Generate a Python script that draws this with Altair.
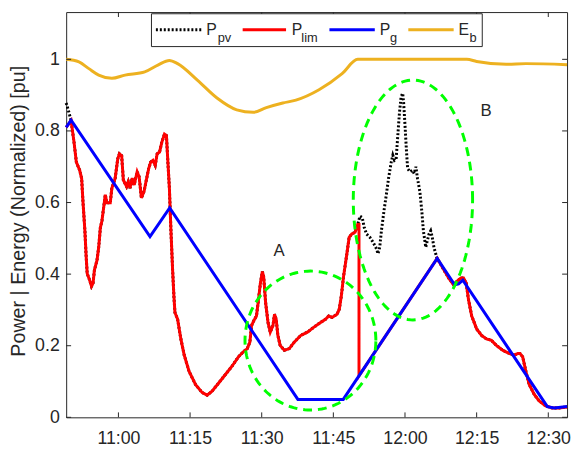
import altair as alt
import numpy as np
import pandas as pd

T11 = 660  # 11:00 expressed in minutes of the day; series times are minutes relative to 11:00

# ---- P_pv / P_lim (shared where P_lim follows P_pv) ----
ppv_head_t = [-10.94, -10.43]
ppv_head_v = [0.878, 0.855]

shared_a_t = [-9.91, -9.29, -8.81, -8.11, -7.70, -7.43, -7.02, -6.75, -6.54, -6.05,
              -5.64, -5.31, -5.02, -4.48, -4.13, -3.78, -3.45, -3.10, -2.75, -2.42,
              -1.71, -1.38, -0.68, -0.14, 0.21, 0.68, 1.03, 1.71, 2.06, 2.42,
              2.89, 3.30, 3.92, 4.34, 4.81, 5.37, 5.84, 6.34, 6.75, 7.23,
              7.70, 8.11, 8.61, 9.08, 9.64, 10.05, 10.32, 10.67, 11.00, 11.35,
              11.62, 11.83, 12.39, 13.07, 13.77, 14.80, 16.16, 17.55, 18.58, 19.61,
              20.99, 22.36, 23.74, 25.12, 26.16, 26.98, 27.52, 27.87, 28.34, 28.90,
              29.25, 29.73, 30.14, 30.41, 30.82, 31.32, 31.79, 32.35, 32.68, 33.03,
              33.38, 33.86, 34.74, 35.78, 36.81, 38.19, 39.57, 40.94, 42.32, 43.35,
              44.03, 44.74, 45.77, 46.24, 46.66, 47.13, 47.83, 48.31, 48.86, 49.55,
              50.10]
shared_a_v = [0.829, 0.768, 0.713, 0.690, 0.667, 0.604, 0.521, 0.448, 0.402, 0.384,
              0.366, 0.375, 0.412, 0.439, 0.475, 0.530, 0.549, 0.585, 0.622, 0.599,
              0.599, 0.640, 0.668, 0.722, 0.736, 0.731, 0.663, 0.645, 0.658, 0.640,
              0.668, 0.649, 0.686, 0.672, 0.613, 0.631, 0.663, 0.695, 0.713, 0.718,
              0.704, 0.736, 0.741, 0.768, 0.791, 0.787, 0.722, 0.640, 0.520, 0.410,
              0.338, 0.293, 0.274, 0.219, 0.174, 0.128, 0.091, 0.069, 0.062, 0.073,
              0.096, 0.119, 0.142, 0.169, 0.183, 0.192, 0.210, 0.256, 0.270, 0.283,
              0.320, 0.375, 0.407, 0.393, 0.320, 0.265, 0.238, 0.256, 0.288, 0.274,
              0.229, 0.201, 0.187, 0.192, 0.210, 0.229, 0.238, 0.252, 0.265, 0.274,
              0.283, 0.279, 0.288, 0.302, 0.338, 0.393, 0.457, 0.503, 0.512, 0.517,
              0.539]

ppv_peak_t = [50.58, 51.05, 51.47, 51.96, 52.64, 53.32, 54.03, 54.36, 54.71, 55.06,
              55.59, 56.09, 56.56, 57.12, 57.45, 57.80, 58.15, 58.49, 58.84, 59.19,
              59.52, 59.72, 60.01, 60.28, 60.55, 61.04, 61.58, 61.93, 62.28, 62.61,
              63.11, 63.52, 63.85, 64.35, 64.68, 65.03, 65.38, 65.71, 66.06, 66.62,
              66.74]
ppv_peak_v = [0.562, 0.558, 0.530, 0.512, 0.503, 0.489, 0.471, 0.457, 0.475, 0.521,
              0.576, 0.622, 0.668, 0.713, 0.732, 0.718, 0.722, 0.787, 0.851, 0.896,
              0.905, 0.878, 0.814, 0.750, 0.695, 0.686, 0.690, 0.681, 0.700, 0.668,
              0.631, 0.576, 0.521, 0.475, 0.494, 0.512, 0.521, 0.503, 0.475, 0.448,
              0.444]

shared_b_t = [68.13, 69.16, 70.19, 70.87, 71.70, 72.25, 72.81, 73.29, 73.97, 75.00,
              76.03, 77.06, 78.10, 79.13, 80.51, 81.90, 82.93, 83.61, 84.08, 84.64,
              85.32, 86.02, 87.06, 88.09, 89.45, 90.83, 92.22, 93.93]
shared_b_v = [0.412, 0.389, 0.370, 0.380, 0.389, 0.389, 0.375, 0.329, 0.283, 0.247,
              0.229, 0.219, 0.215, 0.201, 0.187, 0.178, 0.174, 0.178, 0.178, 0.169,
              0.128, 0.091, 0.064, 0.046, 0.032, 0.026, 0.026, 0.029]

plim_head_t = [-10.94]
plim_head_v = [0.81]
plim_cut_t = [50.37, 50.37, 66.74]
plim_cut_v = [0.539, 0.116, 0.444]

# ---- P_g ----
pg_t = [-10.94, -9.91, 6.61, 10.73, 37.57, 47.07, 66.74, 70.40, 71.22, 72.11, 89.80, 91.25, 93.93]
pg_v = [0.81, 0.83, 0.505, 0.585, 0.05, 0.05, 0.444, 0.37, 0.373, 0.383, 0.03, 0.026, 0.03]

# ---- E_b ----
eb_t = [-10.94, -8.26, -6.19, -4.13, -1.38, 1.38, 5.51, 8.26, 10.67, 12.39,
        16.52, 20.64, 24.77, 28.22, 30.97, 34.41, 37.16, 42.0, 46.83, 50.10,
        72.94, 75.0, 81.19, 85.32, 93.93]
eb_v = [1.0, 0.993, 0.974, 0.956, 0.947, 0.956, 0.965, 0.984, 0.997, 0.988,
        0.942, 0.892, 0.859, 0.852, 0.865, 0.878, 0.886, 0.915, 0.960, 1.0,
        1.0, 0.994, 0.986, 0.988, 0.985]

# ---- annotations ----
ellipse_names = ["A", "B"]
ellipse_cx = [40.2, 61.66]     # minutes after 11:00
ellipse_rx = [13.7, 12.49]     # minutes
ellipse_cy = [0.2145, 0.607]
ellipse_ry = [0.194, 0.335]
label_text = ["A", "B"]
label_t = [33.65, 76.96]
label_v = [0.451, 0.841]

x_ticks = [660, 675, 690, 705, 720, 735, 750]
y_ticks = [0, 0.2, 0.4, 0.6, 0.8, 1]


def frame(t, v):
    return pd.DataFrame({"t": [T11 + a for a in t], "v": v, "i": list(range(len(t)))})


ppv_df = frame(ppv_head_t + shared_a_t + ppv_peak_t + shared_b_t,
               ppv_head_v + shared_a_v + ppv_peak_v + shared_b_v)
plim_df = frame(plim_head_t + shared_a_t + plim_cut_t + shared_b_t,
                plim_head_v + shared_a_v + plim_cut_v + shared_b_v)
pg_df = frame(pg_t, pg_v)
eb_df = frame(eb_t, eb_v)

ell_rows = []
theta = np.linspace(0, 2 * np.pi, 145)
for k in range(len(ellipse_names)):
    for j, th in enumerate(theta):
        ell_rows.append({"name": ellipse_names[k],
                         "t": T11 + ellipse_cx[k] + ellipse_rx[k] * np.cos(th),
                         "v": ellipse_cy[k] + ellipse_ry[k] * np.sin(th),
                         "i": j})
ell_df = pd.DataFrame(ell_rows)
lab_df = pd.DataFrame({"t": [T11 + a for a in label_t], "v": label_v, "label": label_text})
xt_df = pd.DataFrame({"t": x_ticks})
yt_df = pd.DataFrame({"v": y_ticks})
one = pd.DataFrame({"k": [0]})

W, H = 508, 411
FONT = "Liberation Sans"
INK = "#262626"

xs = alt.Scale(domain=[T11 - 10.94, T11 + 93.93], nice=False, zero=False)
ys = alt.Scale(domain=[0, 1.132], nice=False, zero=False)
X = alt.X("t:Q", scale=xs, axis=alt.Axis(
    values=x_ticks,
    labelExpr="floor(datum.value/60) + ':' + (datum.value % 60 < 10 ? '0' : '') + (datum.value % 60)",
    title=None, ticks=False, tickSize=0, domain=False, grid=False,
    labelPadding=13, labelFontSize=18, labelColor=INK, labelFont=FONT, labelFlush=False))
Y = alt.Y("v:Q", scale=ys, axis=alt.Axis(
    values=y_ticks, format="~g", title="Power | Energy (Normalized) [pu]",
    ticks=False, tickSize=0, domain=False, grid=False,
    labelPadding=7, labelFontSize=18, labelColor=INK, labelFont=FONT,
    titleFont=FONT, titleFontSize=20, titleFontWeight="normal", titleColor=INK,
    titleX=-42, titleY=201.5, titleBaseline="alphabetic", titleAlign="center", titleAngle=-90))

eb = alt.Chart(eb_df).mark_line(color="#EDB120", strokeWidth=3, interpolate="monotone").encode(x=X, y=Y, order="i:Q")
ppv = alt.Chart(ppv_df).mark_line(color="black", strokeWidth=3, strokeDash=[2, 2]).encode(x=X, y=Y, order="i:Q")
plim = alt.Chart(plim_df).mark_line(color="#FF0000", strokeWidth=3).encode(x=X, y=Y, order="i:Q")
pg = alt.Chart(pg_df).mark_line(color="#0000FF", strokeWidth=3).encode(x=X, y=Y, order="i:Q")
ell = alt.Chart(ell_df).mark_line(color="#00FF00", strokeWidth=3, strokeDash=[9, 6]).encode(
    x=X, y=Y, order="i:Q", detail="name:N")
labs = alt.Chart(lab_df).mark_text(font=FONT, fontSize=17, color=INK, align="center",
                                   baseline="alphabetic").encode(x=X, y=Y, text="label:N")

ytl = alt.Chart(yt_df).mark_rule(color=INK, strokeWidth=1).encode(y=Y, x=alt.value(0), x2=alt.value(5))
ytr = alt.Chart(yt_df).mark_rule(color=INK, strokeWidth=1).encode(y=Y, x=alt.value(W - 5), x2=alt.value(W))
xtb = alt.Chart(xt_df).mark_rule(color=INK, strokeWidth=1).encode(x=X, y=alt.value(H - 5), y2=alt.value(H))
xtt = alt.Chart(xt_df).mark_rule(color=INK, strokeWidth=1).encode(x=X, y=alt.value(0), y2=alt.value(5))

# ---- manual legend (for subscripts) ----
legend_layers = [
    alt.Chart(one).mark_rect(fill="white", stroke=INK, strokeWidth=1).encode(
        x=alt.value(86.5), x2=alt.value(422), y=alt.value(1.7), y2=alt.value(35))
]
entries = [
    # sample x0, x1, color, dash, main, main x, sub, sub x
    (91, 137, "black", [2, 2], "P", 142, "pv", 153.7),
    (179, 223, "#FF0000", None, "P", 228.7, "lim", 238.5),
    (267, 313, "#0000FF", None, "P", 318, "g", 328.5),
    (347, 393, "#EDB120", None, "E", 398, "b", 409),
]
for x0, x1, col, dash, main, mx, sub, sx in entries:
    kw = dict(color=col, strokeWidth=3)
    if dash:
        kw["strokeDash"] = dash
    legend_layers.append(alt.Chart(one).mark_rule(**kw).encode(
        x=alt.value(x0), x2=alt.value(x1), y=alt.value(18)))
    legend_layers.append(alt.Chart(one).mark_text(text=main, font=FONT, fontSize=16, color=INK,
                                                  align="left", baseline="alphabetic").encode(
        x=alt.value(mx), y=alt.value(23.3)))
    legend_layers.append(alt.Chart(one).mark_text(text=sub, font=FONT, fontSize=13, color=INK,
                                                  align="left", baseline="alphabetic").encode(
        x=alt.value(sx), y=alt.value(30)))

chart = alt.layer(eb, ppv, plim, pg, ell, labs, ytl, ytr, xtb, xtt, *legend_layers).properties(
    width=W, height=H,
    padding={"left": 59, "top": 1, "right": 4, "bottom": 30},
    autosize=alt.AutoSizeParams(type="none"),
).configure_view(stroke=INK, strokeWidth=1)

chart.save("out.html", embed_options={"renderer": "svg", "actions": False})
